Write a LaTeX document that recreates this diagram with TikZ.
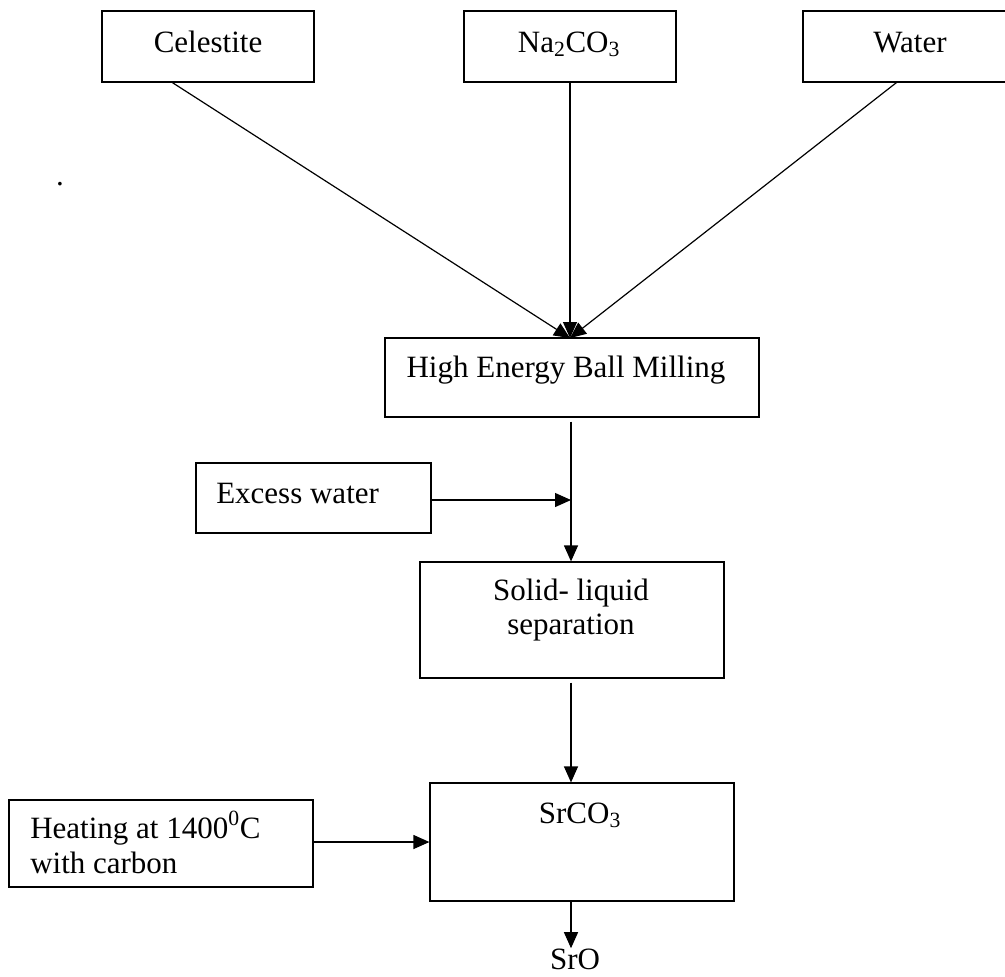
\documentclass[tikz,border=0pt]{standalone}
\usepackage{fontspec}
\setmainfont{Liberation Serif}
\usetikzlibrary{arrows.meta,fit,calc}

\begin{document}
\begin{tikzpicture}[x=0.75pt,y=-0.75pt,
  box/.style={draw,line width=0.9pt,inner sep=0pt},
  txt/.style={inner sep=0pt,font=\fontsize{23.25pt}{26pt}\selectfont},
  conn/.style={line width=0.9pt},
  arr/.style={conn,-{Triangle[length=12pt,width=10.5pt]}}]
  \useasboundingbox (0,0) rectangle (1005,976);

  % raw materials
  \node[box,fit={(102,11) (314,82)}] (cel) {};
  \node[txt,anchor=base] (celt) at (208,52) {Celestite};
  \node[box,fit={(464,11) (676,82)}] (nac) {};
  \node[txt,anchor=base] (nact) at (569,52) {Na\textsubscript{2}CO\textsubscript{3}};
  \node[box,fit={(803,11) (1017,82)}] (wat) {};
  \node[txt,anchor=base] (watt) at (910,52) {Water};
  \node[txt,anchor=base] (dot) at (60,185) {.};

  % process steps
  \node[box,fit={(385,338) (759,417)}] (mill) {};
  \node[txt,anchor=base] (millt) at (566,377) {High Energy Ball Milling};

  \node[box,fit={(196,463) (431,533)}] (exw) {};
  \node[txt,anchor=base west] (exwt) at (216,503) {Excess water};

  \node[box,fit={(420,562) (724,678)}] (sep) {};
  \node[txt,anchor=base] (sept1) at (571,600) {Solid- liquid};
  \node[txt,anchor=base] (sept2) at (571,634) {separation};

  \node[box,fit={(9,800) (313,887)}] (heat) {};
  \node[txt,anchor=base west] (heatt1) at (30,838) {Heating at 1400\textsuperscript{0}C};
  \node[txt,anchor=base west] (heatt2) at (30,873) {with carbon};

  \node[box,fit={(430,783) (734,901)}] (sr) {};
  \node[txt,anchor=base] (srt) at (580,823) {SrCO\textsubscript{3}};

  \node[txt,anchor=base] (sro) at (575,969) {SrO};

  % flow line positions
  \coordinate (mid) at (571,0);
  \coordinate (hin) at (570,338);

  % connectors
  \draw[arr] ($(cel.south west)+(71,0)$) -- (hin);
  \draw[arr] (nac.south) -- (hin);
  \draw[arr] ($(wat.south west)+(94,0)$) -- (hin);
  \draw[arr,shorten <=3pt] (mill.south -| mid) -- (sep.north -| mid);
  \draw[arr] (exw.east |- 0,500) -- (mid |- 0,500);
  \draw[arr,shorten <=3pt] (sep.south -| mid) -- (sr.north -| mid);
  \draw[arr] (heat.east |- 0,842) -- (sr.west |- 0,842);
  \draw[arr] (sr.south -| mid) -- (sro.north -| mid);
\end{tikzpicture}
\end{document}
